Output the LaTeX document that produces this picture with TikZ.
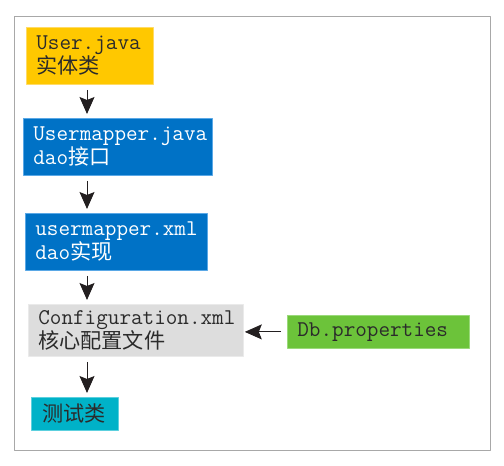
\documentclass[tikz,border=0pt]{standalone}
\usepackage{fontspec}
\newfontfamily\cjk{Noto Sans CJK SC}[Scale=0.94]
\usetikzlibrary{arrows.meta}
\definecolor{framegray}{HTML}{A8A8A8}
\definecolor{arrowblack}{HTML}{231F20}
\definecolor{entityfill}{HTML}{FFC800}
\definecolor{entityedge}{HTML}{FFDB66}
\definecolor{daofill}{HTML}{0072C6}
\definecolor{daoedge}{HTML}{5AA8E6}
\definecolor{conffill}{HTML}{DDDDDD}
\definecolor{confedge}{HTML}{EAEAEA}
\definecolor{testfill}{HTML}{00B2C8}
\definecolor{testedge}{HTML}{5CD0DE}
\definecolor{propfill}{HTML}{6CC33A}
\definecolor{propedge}{HTML}{9AD97A}
\definecolor{darktext}{HTML}{2B2B2B}
\tikzset{
  box/.style={draw, line width=0.8pt, anchor=north west, inner xsep=10pt, inner ysep=0pt, align=left},
  flow/.style={->, draw=arrowblack, line width=1pt, shorten <=5pt, shorten >=4pt}
}
\begin{document}
\begin{tikzpicture}[x=1pt, y=-1pt, font=\fontsize{22.5}{22}\selectfont\ttfamily, line join=round, >={Stealth[length=17pt,width=15pt,inset=3pt]}]
  \useasboundingbox (0,0) rectangle (504,466);
  \draw[framegray, line width=1pt] (14,16) rectangle (490,450);
  % boxes
  \node[box, fill=entityfill, draw=entityedge, text=darktext, text width=107pt, minimum height=57pt] (user) at (26,27) {User.java\\{\cjk 实体类}};
  \node[box, fill=daofill, draw=daoedge, text=white, text width=169pt, minimum height=57pt] (mapper) at (23,118) {Usermapper.java\\dao{\cjk 接口}};
  \node[box, fill=daofill, draw=daoedge, text=white, text width=162pt, minimum height=57pt] (mapxml) at (25,213) {usermapper.xml\\dao{\cjk 实现}};
  \node[box, fill=conffill, draw=confedge, text=darktext, text width=195pt, minimum height=52pt] (config) at (28,304) {Configuration.xml\\{\cjk 核心配置文件}};
  \node[box, fill=testfill, draw=testedge, text=darktext, inner xsep=11pt, text width=65pt, minimum height=33pt] (test) at (31,397) {{\cjk 测试类}};
  \node[box, fill=propfill, draw=propedge, text=darktext, text width=162pt, minimum height=33pt] (dbprop) at (287,315) {Db.properties};
  % connectors
  \coordinate (spine) at (87,0);
  \foreach \a/\b in {user/mapper, mapper/mapxml, mapxml/config, config/test}
    \draw[flow] (\a.south -| spine) -- (\b.north -| spine);
  \draw[flow, shorten <=6pt, shorten >=1pt] (dbprop.west) -- (dbprop.west -| config.east);
\end{tikzpicture}
\end{document}
